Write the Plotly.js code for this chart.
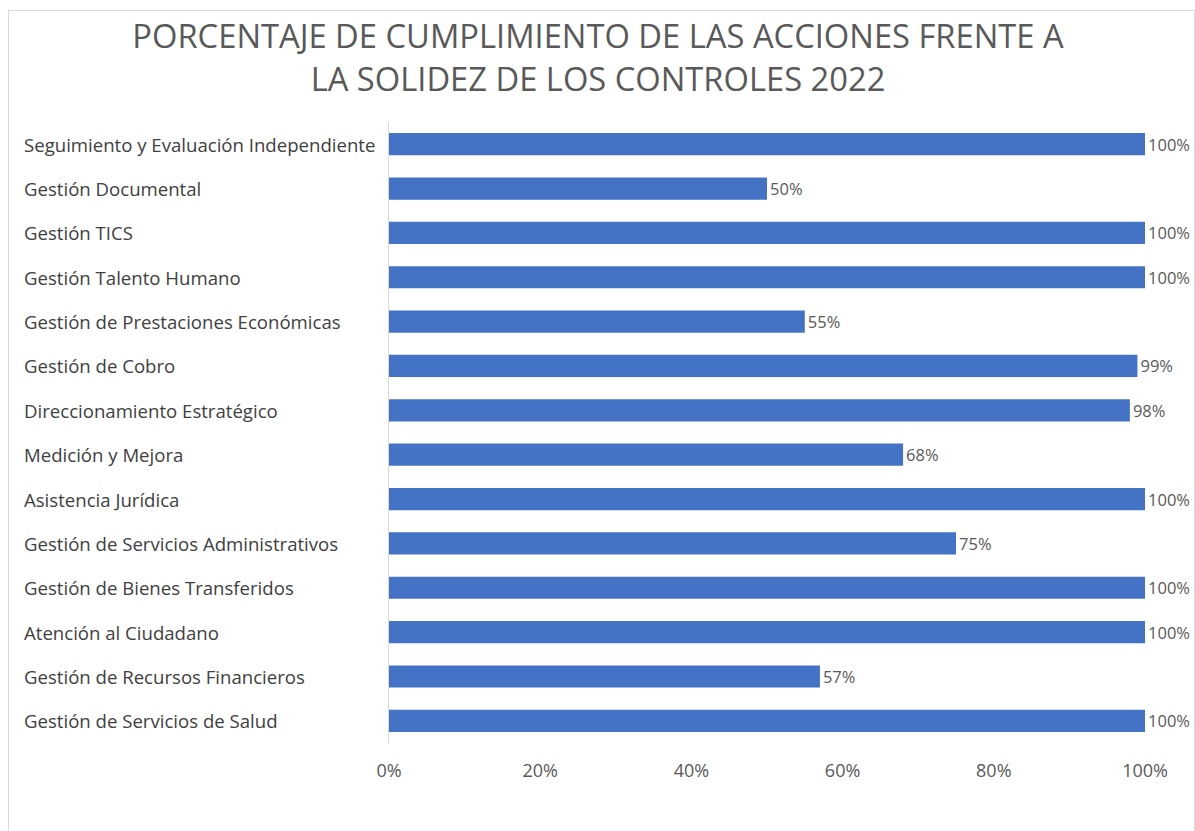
<!DOCTYPE html>
<html>
<head>
<meta charset="utf-8">
<script src="https://cdn.plot.ly/plotly-3.0.1.min.js"></script>
<style>
  html, body { margin: 0; padding: 0; background: #ffffff; }
  #wrap { position: absolute; left: 8px; top: 10px; width: 1185px; height: 830px;
          border: 1px solid #d9d9d9; overflow: hidden; background: #fff; }
  #chart { width: 1185px; height: 830px; }
</style>
</head>
<body>
<div id="wrap"><div id="chart"></div></div>
<script>
const categories = [
  "Seguimiento y Evaluación Independiente",
  "Gestión Documental",
  "Gestión TICS",
  "Gestión Talento Humano",
  "Gestión de Prestaciones Económicas",
  "Gestión de Cobro",
  "Direccionamiento Estratégico",
  "Medición y Mejora",
  "Asistencia Jurídica",
  "Gestión de Servicios Administrativos",
  "Gestión de Bienes Transferidos",
  "Atención al Ciudadano",
  "Gestión de Recursos Financieros",
  "Gestión de Servicios de Salud"
];
const values = [1.00, 0.50, 1.00, 1.00, 0.55, 0.99, 0.98, 0.68, 1.00, 0.75, 1.00, 1.00, 0.57, 1.00];
const tickValues = [0, 0.2, 0.4, 0.6, 0.8, 1.0];
const tickLabels = ["0%", "20%", "40%", "60%", "80%", "100%"];
const titleLines = ["PORCENTAJE DE CUMPLIMIENTO DE LAS ACCIONES FRENTE A", "LA SOLIDEZ DE LOS CONTROLES 2022"];

const FONT = "Open Sans, Liberation Sans, sans-serif";

const trace = {
  type: "bar",
  orientation: "h",
  y: categories,
  x: values,
  width: 0.5,
  marker: { color: "#4472C4" },
  text: values.map(v => Math.round(v * 100) + "%"),
  textposition: "outside",
  constraintext: "none",
  cliponaxis: false,
  textfont: { family: FONT, size: 16.5, color: "#595959" },
  hoverinfo: "none"
};

const annotations = categories.map(c => ({
  xref: "paper", yref: "y",
  x: (22 - 389) / 756, y: c,
  xanchor: "left", yanchor: "middle",
  text: c, showarrow: false,
  font: { family: FONT, size: 18.6, color: "#404040" }
}));

const layout = {
  width: 1185, height: 830,
  margin: { l: 380, r: 49, t: 111, b: 98 },
  paper_bgcolor: "#ffffff",
  plot_bgcolor: "#ffffff",
  showlegend: false,
  title: {
    text: titleLines.join("<br>"),
    font: { family: FONT, size: 32.7, color: "#595959" },
    x: (598 - 9) / 1185, xanchor: "center", xref: "container",
    y: 1 - 37 / 830, yref: "container", yanchor: "middle"
  },
  xaxis: {
    range: [0, 1],
    tickvals: tickValues,
    ticktext: tickLabels,
    showgrid: false,
    zeroline: false,
    showline: false,
    ticks: "",
    ticklabelstandoff: 15,
    tickfont: { family: FONT, size: 18, color: "#595959" },
    fixedrange: true
  },
  yaxis: {
    type: "category",
    autorange: "reversed",
    showticklabels: false,
    showgrid: false,
    zeroline: false,
    showline: true,
    linecolor: "#d9d9d9",
    linewidth: 1,
    ticks: "",
    fixedrange: true
  },
  annotations: annotations
};

Plotly.newPlot("chart", [trace], layout, { displayModeBar: false, staticPlot: true });
</script>
</body>
</html>
